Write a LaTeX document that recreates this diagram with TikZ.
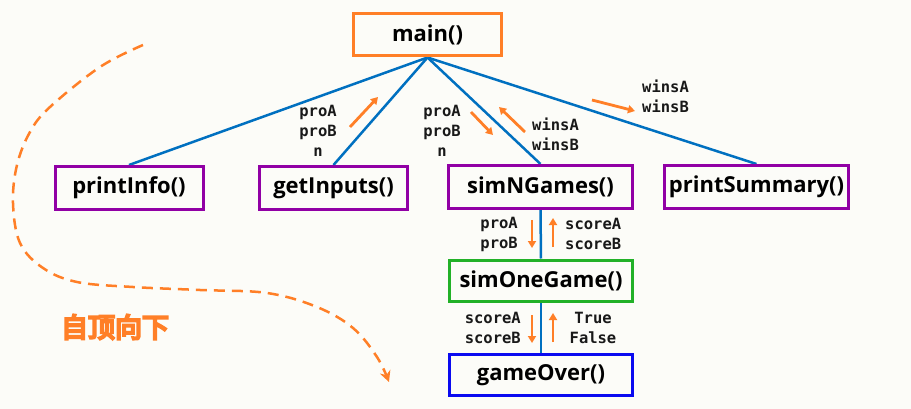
\documentclass[tikz,border=0pt]{standalone}
\usepackage{fontspec}
\setmainfont{Open Sans}
\newfontfamily\monof{DejaVu Sans Mono}
\newfontfamily\cjk{Noto Sans CJK SC}
\newcommand\strongstroke[1]{\special{pdf:literal direct 2 Tr 2.2 w}#1\special{pdf:literal direct 0 Tr}}
\usetikzlibrary{arrows.meta,backgrounds}
\definecolor{bg}{RGB}{252,252,248}
\definecolor{orng}{RGB}{255,127,39}
\definecolor{purp}{RGB}{145,0,165}
\definecolor{grn}{RGB}{34,177,40}
\definecolor{blu}{RGB}{10,10,240}
\definecolor{lnk}{RGB}{0,112,192}
\begin{document}
\begin{tikzpicture}[x=1pt,y=-1pt,
  fn/.style={draw, line width=3pt, fill=bg, inner sep=0pt,
    font=\fontsize{22}{24}\selectfont\bfseries, text=black},
  link/.style={draw=lnk, line width=2.5pt},
  lbl/.style={font=\monof\fontsize{15.5}{20}\selectfont\bfseries, inner sep=0pt, text=black!90},
  flow/.style={draw=orng, line width=2.8pt, -{Triangle[length=7pt,width=8pt]}},
  tdown/.style={draw=orng, line width=2.5pt, dash pattern=on 11pt off 7pt,
    -{Stealth[length=11pt,width=11pt]}}]
\useasboundingbox (0,0) rectangle (911,409);
\begin{scope}[on background layer]
\fill[bg] (0,0) rectangle (911,409);
\end{scope}
% boxes
\node[fn, draw=orng, minimum width=148pt, minimum height=42pt] (main) at (427.5,35) {main()};
\node[fn, draw=purp, minimum width=148pt, minimum height=43pt] (pinfo) at (129,188) {printInfo()};
\node[fn, draw=purp, minimum width=148pt, minimum height=43pt] (ginp) at (333.5,188) {getInputs()};
\node[fn, draw=purp, minimum width=184pt, minimum height=43pt] (simn) at (540.5,187) {simNGames()};
\node[fn, draw=purp, minimum width=184pt, minimum height=43pt] (psum) at (756.5,187) {printSummary()};
\node[fn, draw=grn, minimum width=183pt, minimum height=41pt] (sim1) at (541,280.5) {simOneGame()};
\node[fn, draw=blu, minimum width=183pt, minimum height=41pt] (gover) at (541,375) {gameOver()};
% connectors
\begin{scope}[on background layer]
\draw[link] (main.south) -- (pinfo.north);
\draw[link] (main.south) -- (ginp.north);
\draw[link] (main.south) -- (simn.north);
\draw[link] (main.south) -- (psum.north);
\draw[link] (simn.south) -- (sim1.north);
\draw[link] (sim1.south) -- (gover.north);
\end{scope}
% labels
\node[lbl, align=center] (l1) at (318,131) {proA\\proB\\n};
\node[lbl, align=center] (l2) at (442,131) {proA\\proB\\n};
\node[lbl, align=left, anchor=west] (l3) at (532,134) {winsA\\winsB};
\node[lbl, align=left, anchor=west] (l4) at (642,96) {winsA\\winsB};
\node[lbl, align=right, anchor=east] (l5) at (518,234) {proA\\proB};
\node[lbl, align=left, anchor=west] (l6) at (565,234) {scoreA\\scoreB};
\node[lbl, align=right, anchor=east] (l7) at (521,328) {scoreA\\scoreB};
\node[lbl, align=center] (l8) at (593,328) {True\\False};
% data-flow arrows
\coordinate (a1s) at (350,127); \coordinate (a1e) at (378,97);
\coordinate (a2s) at (471,112); \coordinate (a2e) at (493,135);
\coordinate (a3s) at (525,132); \coordinate (a3e) at (499,107);
\coordinate (a4s) at (592,100); \coordinate (a4e) at (635,111);
\coordinate (a5s) at (532,220); \coordinate (a5e) at (532,248);
\coordinate (a6s) at (553,247); \coordinate (a6e) at (553,218);
\coordinate (a7s) at (532,315); \coordinate (a7e) at (532,343);
\coordinate (a8s) at (553,342); \coordinate (a8e) at (553,313);
\foreach \i in {1,...,8} {\draw[flow] (a\i s) -- (a\i e);}
% top-down curve
\draw[tdown] plot[smooth, tension=0.6] coordinates {(143,45) (100,67) (50,107) (30,132) (17,165) (13,203) (20,243) (43,268) (77,282) (133,287) (200,290) (267,293) (317,307) (353,328) (377,357) (389,382)};
\node[text=orng, font=\cjk\fontsize{27}{29}\selectfont, inner sep=0pt] (topdown) at (115,327) {\strongstroke{自顶向下}};
\end{tikzpicture}
\end{document}
